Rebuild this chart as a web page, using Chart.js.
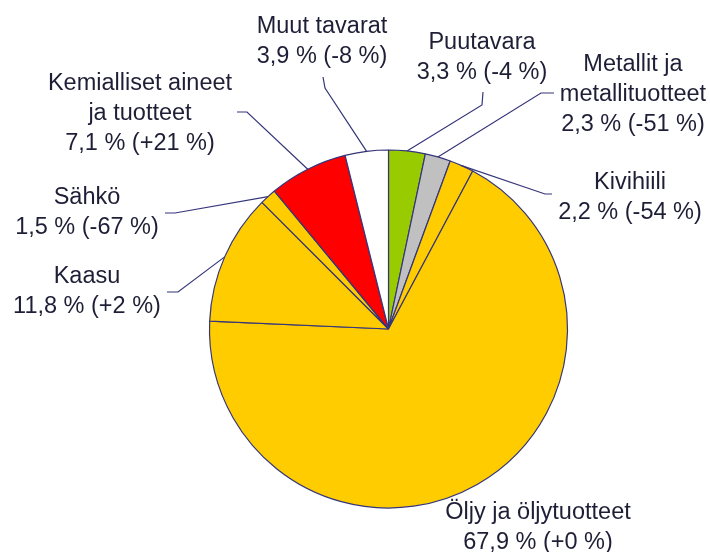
<!DOCTYPE html>
<html>
<head>
<meta charset="utf-8">
<script src="https://cdn.jsdelivr.net/npm/chart.js@4/dist/chart.umd.min.js"></script>
<style>
  html, body { margin: 0; padding: 0; background: #fff; }
  #wrap { width: 710px; height: 552px; }
</style>
</head>
<body>
<div id="wrap"><canvas id="chart" width="710" height="552"></canvas></div>
<script>
// data, clockwise from 12 o'clock
var categories = ['Puutavara', 'Metallit ja metallituotteet', 'Kivihiili', 'Öljy ja öljytuotteet',
    'Kaasu', 'Sähkö', 'Kemialliset aineet ja tuotteet', 'Muut tavarat'];
var shares = [3.3, 2.3, 2.2, 67.9, 11.8, 1.5, 7.1, 3.9];
var changes = [-4, -51, -54, 0, 2, -67, 21, -8];
var colors = ['#99cc00', '#c0c0c0', '#ffcc00', '#ffcc00', '#ffcc00', '#ffcc00', '#ff0000', '#ffffff'];

// label layout: where the name is split, text centre, leader start and elbow
var labelLayout = [
    { lines: ['Puutavara'], x: 482, y: 43, start: [483, 92], elbow: [482, 105] },
    { lines: ['Metallit ja', 'metallituotteet'], x: 633, y: 65, start: [554, 93], elbow: [541, 93] },
    { lines: ['Kivihiili'], x: 630, y: 183, start: [552, 194], elbow: [545, 194] },
    { lines: ['Öljy ja öljytuotteet'], x: 538, y: 513, start: null },
    { lines: ['Kaasu'], x: 87, y: 277, start: [167, 292], elbow: [178, 292] },
    { lines: ['Sähkö'], x: 87, y: 198, start: [165, 213], elbow: [175, 213] },
    { lines: ['Kemialliset aineet', 'ja tuotteet'], x: 140, y: 84, start: [237, 112], elbow: [247, 112] },
    { lines: ['Muut tavarat'], x: 322, y: 27, start: [323, 77], elbow: [325, 88] }
];

function fmtShare(v) {
    return v.toFixed(1).replace('.', ',') + ' %';
}
function fmtChange(v) {
    return '(' + (v < 0 ? '-' : '+') + Math.abs(v) + ' %)';
}

var pieLabels = {
    id: 'pieLabels',
    afterDatasetsDraw: function(chart) {
        var ctx = chart.ctx;
        var arcs = chart.getDatasetMeta(0).data;
        ctx.save();
        // leader lines
        ctx.strokeStyle = '#35357a';
        ctx.lineWidth = 1.2;
        arcs.forEach(function(arc, i) {
            var l = labelLayout[i];
            if (!l.start) return;
            var p = arc.getProps(['x', 'y', 'startAngle', 'endAngle', 'outerRadius'], true);
            var mid = (p.startAngle + p.endAngle) / 2;
            var ex = p.x + Math.cos(mid) * p.outerRadius;
            var ey = p.y + Math.sin(mid) * p.outerRadius;
            ctx.beginPath();
            ctx.moveTo(l.start[0], l.start[1]);
            ctx.lineTo(l.elbow[0], l.elbow[1]);
            ctx.lineTo(ex, ey);
            ctx.stroke();
        });
        // texts
        ctx.fillStyle = '#1e1e36';
        ctx.font = '23.5px "Liberation Sans", Arial, sans-serif';
        ctx.textAlign = 'center';
        ctx.textBaseline = 'middle';
        labelLayout.forEach(function(l, i) {
            var lines = l.lines.concat([fmtShare(shares[i]) + ' ' + fmtChange(changes[i])]);
            lines.forEach(function(t, k) {
                ctx.fillText(t, l.x, l.y + k * 30);
            });
        });
        ctx.restore();
    }
};

new Chart(document.getElementById('chart'), {
    type: 'pie',
    data: {
        labels: categories,
        datasets: [{
            data: shares,
            backgroundColor: colors,
            borderColor: '#35357a',
            borderWidth: 1.2
        }]
    },
    options: {
        responsive: false,
        animation: false,
        radius: 179,
        layout: { padding: { left: 67, right: 0, top: 106, bottom: 0 } },
        plugins: {
            legend: { display: false },
            tooltip: { enabled: false }
        }
    },
    plugins: [pieLabels]
});
</script>
</body>
</html>
